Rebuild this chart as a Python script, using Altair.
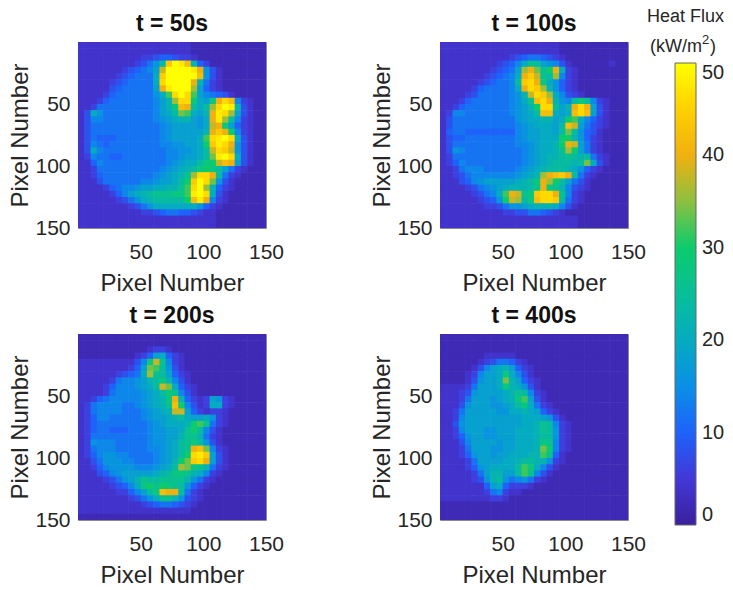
import altair as alt
import pandas as pd

# Each row is a line of estimated heat flux, one character per cell,
# in base 36 units of 2 kW/m2 (1 = 2, 9 = 18, f = 30, p = 50). Spaces are ignored.
t50 = [
"222222222222222222 111111111111",
"222222222222222222 111111111111",
"2222222222 33455433 2 11111111111",
"222222222 346 8c mpol b5 3 111111111",
"2222222 34567 9j ppppo k842 1111111",
"222222 345 666 am ppppp l842 1111111",
"22222 345 6666 an pppp kb632 1111111",
"22222 45 66666 9k o ppp i9532 1111111",
"2222 35 666666 8a g n p n g 9 7 6 5 4 2 11111",
"222 35 6666666 79 b i n n e a 9 e k n l 7 3 2 11",
"22 36 66666666 79 b e l k c a c i n p o b 4 2 11",
"2 4 a 8 66666666 79 a c h g a 9 b k o n i 9 4 2 11",
"2 4 7 7 66666666 78 9 a b b 9 8 a k o i c 7 3 2 11",
"2 4 6 6 66666666 67 8 9999 8 a j k e 9 5 3 2 11",
"2 4 6 6 66666666 67 8 99999 b k m k f 7 3 2 11",
"2 4 6 5 55666666 67 8 9999 a g n o p n a 4 2 11",
"2 4 7 6 56666666 67 7 8 8 9 9 a f m o n k 8 4 2 11",
"2 4 a 7 66666666 66 7 7 8 8 9 a c j n m j 8 4 2 11",
"2 3 7 6 6 5 5 6 6 6 6 6 66 7 7 8 9 9 a c h o p n a 4 2 11",
"2 2 5 7 6 6 6 6 6 6 6 6 66 7 8 9 a a c e f j l k 9 4 2 11",
"2 2 3 6 6 6 6 6 6 6 6 6 67 8 9 a b c e f e c 9 6 3 2 111",
"2 2 3 5 6 6 6 6 6 6 6 6 78 9 a b d i n n k c 6 3 2 1111",
"222 4 6 6 6 6 6 6 7 7 89 9 a c f m p n h 8 4 2 11111",
"2222 3 5 6 7 7 8 9 9 aa b b d g n p i b 5 3 2 11111",
"22222 3 5 7 9 a b c dd d e e g o p n a 4 2 111111",
"222222 3 4 6 8 a b cc c c c f l o k 7 3 2 111111",
"22222222 3 4 6 8 aa a a a a a 8 5 3 2 1111111",
"2222222222 3 3 4 5 6 6 5 5 4 3 2 2 11111111",
"2222222222222222222222 11111111",
"2222222222222222222222 11111111",
]
t100 = [
"2222222222222222222 11111111111",
"2222222222222222222 11111111111",
"22222222222 3 4 5 6 6 5 4 3 2 1111111111",
"222222222 3 4 5 7 a d c 9 8 7 4 2 111111211",
"22222222 3 4 5 6 9 i k h d f k a 3 2 11111111",
"2222222 3 4 5 6 7 a k m j d c i 7 3 2 11111111",
"222222 3 4 5 6 6 7 c m n k e a 8 5 3 2 11111111",
"22222 3 5 6 6 6 6 7 a k n m i b 8 5 3 2 11111111",
"2222 3 4 6 6 6 6 6 7 8 b j n m i a 7 4 3 2 1111111",
"222 3 5 6 6 6 6 6 6 7 8 a d l n k b 8 7 c e c 7 3 2 111",
"22 3 5 6 666666 7 8 9 b f n n c 9 b k n k 9 4 2 111",
"2 3 7 7 6 666666 7 8 9 a c l l a 9 a l n l 9 4 2 111",
"2 4 6 6 66666666 8 9 a a b b 9 a f g a 7 5 3 2 111",
"2 4 6 6 66666666 7 8 9 a a a 9 c l j 9 6 4 3 2 111",
"2 5 6 6 55555555 7 8 9 9 a a 9 c h c 8 5 4 2 1111",
"2 4 5 5 66666666 7 8 9 9 a a a f f b 8 5 3 2 1111",
"2 4 6 6 66666666 7 7 8 9 a a b f k j 9 6 3 2 1111",
"2 4 8 7 66666666 6 7 8 9 a a b d i f 9 6 3 2 1111",
"2 3 6 6 66666666 6 7 8 9 a b b c d c b c 6 3 2 111",
"2 3 5 7 66666666 6 7 8 9 a b c c c b c h a 4 2 111",
"2 2 3 6 7 7 7 6 6 6 6 6 7 8 9 a b c c c b a 8 5 3 2 1111",
"2 2 3 4 6 7 7 7 7 7 7 7 8 9 a b i k l m k c 6 3 2 11111",
"2 2 2 4 5 7 8 9 9 9 9 9 a b c e k i f c 9 6 4 2 111111",
"2222 3 4 6 7 8 9 a b b b c d k e d b 7 4 3 2 111111",
"22222 3 4 6 7 a g k j d e m n n k d 7 3 2 1111111",
"222222 3 4 5 8 f j i c e l n n m c 6 3 2 1111111",
"2222222 3 3 4 6 8 8 9 a b b b a 7 4 2 11111111",
"2222222222 3 3 4 4 6 6 5 4 3 2 1111111111",
"2222222222222222222222 11111111",
"2222222222222222222222 11111111",
]
t200 = [
"111111111111111111111111111111",
"111111111111111111111111111111",
"11111111111 2 3 3 2 111111111111111",
"111111111 2 3 5 9 a 5 3 2 1111111111111",
"222222222 4 7 e j d 7 3 2 1111111111111",
"22222222 3 5 9 h g c 8 4 2 1111111111111",
"222222 3 4 5 6 a i d c 9 5 3 2 111111111111",
"22222 3 6 7 7 8 9 b c e b 7 4 2 111111111111",
"2222 3 5 7 7 7 8 9 a c j h a 5 3 2 11111111111",
"2222 3 6 7 7 7 7 8 9 a c e d 7 4 2 11111111111",
"22 3 5 6 7 7 7 7 7 8 9 a b e k b 5 3 2 3 9 8 3 2 11111",
"2 3 6 7 7 7 7 6 6 7 8 9 a b d l f 7 4 2 3 a a 3 2 11111",
"2 3 6 7 7 7 7 6 6 6 7 8 9 a b j j 9 5 3 2 3 3 2 111111",
"2 3 5 7 7 6 6 6 6 6 7 8 9 9 a b c a 9 9 a 8 3 2 111111",
"2 3 5 6 6 6 6 6 6 6 6 7 8 9 a a a b f g d 6 3 2 111111",
"2 3 5 6 6 5 5 5 6 6 6 7 8 8 9 9 a d f c 7 4 2 1111111",
"2 3 6 6 6 6 6 6 6 6 6 7 8 8 9 9 b d d b 6 3 2 1111111",
"2 3 8 7 7 7 6 6 6 6 6 7 8 8 9 a c d e c 8 4 2 1111111",
"2 3 6 7 7 7 6 6 6 6 6 7 7 8 9 a c d k l h 7 3 2 111111",
"2 3 5 7 8 8 7 7 6 6 6 6 7 8 9 a c f n o m 9 4 2 111111",
"2 2 4 6 8 8 8 7 7 6 6 6 7 8 9 b f h m n k 9 4 2 111111",
"2 2 3 5 7 8 8 8 8 7 7 7 8 9 a c i h e d b 6 3 2 111111",
"2 2 2 4 5 7 8 9 9 9 9 9 a b c e e d b a 7 3 2 1111111",
"2222 3 4 6 8 9 b d c c d d d d b 8 6 3 2 11111111",
"22222 3 4 5 7 a e f d f e d c 8 5 3 2 111111111",
"222222 3 3 5 7 9 c e l k k c 6 3 2 1111111111",
"22222222 3 4 6 8 a d d b 8 4 3 2 1111111111",
"222222222 2 3 4 5 6 6 5 4 3 2 11111111111",
"222222222222222222 111111111111",
"111111111111111111111111111111",
]
t400 = [
"111111111111111111111111111111",
"111111111111111111111111111111",
"111111111111111111111111111111",
"1111111 2 2 2 2 2 111111111111111111",
"111111 2 3 4 6 6 5 3 2 1111111111111111",
"11111 2 4 7 9 a b 9 5 3 2 111111111111111",
"1111 2 3 7 9 9 a e a 7 4 2 111111111111111",
"1111 2 4 8 9 9 a h b 9 5 3 2 11111111111111",
"2222 3 6 9 9 9 a e b a 8 4 2 11111111111111",
"222 3 4 8 9 9 9 9 a b d c 7 3 2 1111111111111",
"222 3 6 9 9 9 8 9 a b e g 9 4 2 1111111111111",
"222 4 8 9 9 9 8 8 9 a c e a 6 3 2 111111111111",
"22 3 6 9 9 9 9 9 8 8 a a b a 9 5 3 2 11111111111",
"22 3 7 9 9 9 9 9 9 9 9 9 a a a 9 8 4 2 1111111111",
"22 4 8 9 9 9 9 9 9 9 9 9 a a b d c 7 3 2 111111111",
"22 3 7 9 9 9 8 8 9 9 9 a a a b d c 8 3 2 111111111",
"22 3 5 8 9 9 8 8 9 9 9 a a a b c c 8 3 2 111111111",
"222 4 7 9 9 9 9 8 9 9 a a a b e d 7 3 2 111111111",
"222 3 6 9 9 9 8 8 9 9 a a a b h f 7 3 2 111111111",
"222 3 5 8 9 9 8 9 9 a a a b b g d 5 2 1111111111",
"2222 3 6 9 9 9 9 a a b c c b b 8 3 2 1111111111",
"2222 3 5 8 9 a a a a c g e a 7 4 2 11111111111",
"22222 3 6 9 b b 9 9 c g d 7 4 2 111111111111",
"22222 3 4 8 b c 8 6 7 8 6 3 2 1111111111111",
"222222 2 5 9 a 5 3 3 3 2 111111111111111",
"2222222 3 6 7 3 2 2 11111111111111111",
"22222222 3 3 2 1111111111111111111",
"111111111111111111111111111111",
"111111111111111111111111111111",
"111111111111111111111111111111",
]
panels = [("t = 50s", t50), ("t = 100s", t100), ("t = 200s", t200), ("t = 400s", t400)]
tick_values = [50, 100, 150]
bar_ticks = [0, 10, 20, 30, 40, 50]
parula = ["#3a209c", "#4338d8", "#1e62fa", "#0a90e6", "#05abc0", "#08bf98", "#0ccb6c",
          "#8cc040", "#f0b010", "#ffd000", "#ffff00"]
FONT = "Liberation Sans"
INK = "#262626"
CELL = 5


def table(rows):
    out = []
    for r, row in enumerate(rows):
        row = row.replace(" ", "").ljust(30, "1")[:30]
        for c, ch in enumerate(row):
            out.append(dict(x=c * CELL, x2=(c + 1) * CELL + 0.5, y=r * CELL, y2=(r + 1) * CELL + 0.5,
                            v=int(ch, 36) * 2))
    return pd.DataFrame(out)


scale = alt.Scale(domain=[0, 50], range=parula, interpolate="rgb")


def panel(title, rows, show_legend=False):
    legend = None
    if show_legend:
        legend = alt.Legend(type="gradient", orient="none", legendX=597, legendY=21, title=None,
                            gradientLength=462, gradientThickness=21, values=bar_ticks,
                            labelFontSize=20, labelFont=FONT, labelColor=INK, labelOffset=6,
                            gradientStrokeColor="#666", gradientStrokeWidth=1)
    return alt.Chart(table(rows)).mark_rect(clip=True).encode(
        x=alt.X("x:Q", scale=alt.Scale(domain=[0, 150], nice=False),
                axis=alt.Axis(values=tick_values, title="Pixel Number", grid=False, domain=False,
                              tickSize=0, labelPadding=13, labelFontSize=21, titleFontSize=24,
                              labelFont=FONT, titleFont=FONT, labelColor=INK, titleColor=INK,
                              titleFontWeight="normal", titlePadding=9, labelOverlap=False,
                              labelFlush=False)),
        x2="x2:Q",
        y=alt.Y("y:Q", scale=alt.Scale(domain=[0, 150], reverse=True, nice=False),
                axis=alt.Axis(values=tick_values, title="Pixel Number", grid=False, domain=False,
                              tickSize=0, labelPadding=8, labelFontSize=21, titleFontSize=24,
                              labelFont=FONT, titleFont=FONT, labelColor=INK, titleColor=INK,
                              titleFontWeight="normal", titlePadding=2, labelOverlap=False,
                              labelFlush=False)),
        y2="y2:Q",
        color=alt.Color("v:Q", scale=scale, legend=legend),
    ).properties(
        width=188, height=186,
        title=alt.TitleParams(title, font=FONT, fontSize=23, fontWeight="bold", color="#111", offset=6),
    )


one = pd.DataFrame({"k": [0]})


def label(text, x, y, size, align="center"):
    return alt.Chart(one).mark_text(text=text, font=FONT, fontSize=size, color=INK, align=align,
                                    baseline="alphabetic", clip=False).encode(
        x=alt.value(x), y=alt.value(y))


caption = alt.layer(
    label("Heat Flux", 0, -20, 18, "left"), label("(kW/m", 3, 10, 18, "left"),
    label("2", 55, 2, 13, "left"), label(")", 63, 10, 18, "left"),
).properties(width=60, height=186, view=alt.ViewBackground(stroke=None))

top = alt.hconcat(panel(*panels[0], show_legend=True), panel(*panels[1]), spacing=85)
bottom = alt.hconcat(panel(*panels[2]), panel(*panels[3]), spacing=85)
left = alt.vconcat(top, bottom, spacing=8)
chart = alt.hconcat(left, caption, spacing=0).resolve_scale(color="shared").configure_view(
    stroke="#8a8a8a", strokeWidth=1).properties(padding={"left": 0, "top": 0, "right": 0, "bottom": 0}, background="white")
chart.save("out.html", embed_options={"renderer": "svg", "actions": False})
